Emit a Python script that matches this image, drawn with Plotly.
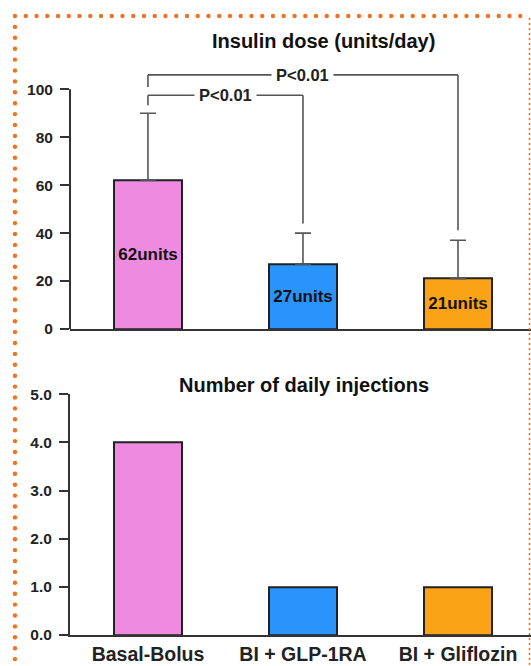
import numpy as np
import plotly.graph_objects as go

# ---- data ----
groups = ["Basal-Bolus", "BI + GLP-1RA", "BI + Gliflozin"]
dose_units = [62, 27, 21]            # mean insulin dose, units/day
dose_err_upper = [28, 13, 16]        # upper error bar
daily_injections = [4, 1, 1]
dose_ticks = [0, 20, 40, 60, 80, 100]
injection_ticks = [0, 1, 2, 3, 4, 5]
p_label = "P<0.01"

# ---- styling / geometry ----
W, H = 531, 666
bar_colors = ["#EE8BE0", "#2A94FC", "#FBA316"]
ink = "#222222"
axis_col = "#333333"
bracket_col = "#555555"
dot_col = "#F37021"
FONT = "Liberation Sans, Arial, sans-serif"
# comparison brackets: (group a, group b, bar height, left leg end, right leg end)
brackets = [(0, 1, 97.5, 93.3, 44.0), (0, 2, 106.0, 101.0, 41.2)]


def fx(p):
    return p / W


def fy(p):
    return 1 - p / H


xpos = list(range(len(groups)))
bar_w = 0.44
x_range = [-0.503, 2.471]

fig = go.Figure()

fig.add_trace(go.Bar(
    x=xpos, y=dose_units, width=bar_w,
    marker=dict(color=bar_colors, line=dict(color=ink, width=2)),
    error_y=dict(type="data", symmetric=False, array=dose_err_upper,
                 arrayminus=[0] * len(dose_units), color=bracket_col,
                 thickness=1.6, width=8),
    texttemplate="%{y}units", textposition="inside", insidetextanchor="middle",
    textangle=0, constraintext="none",
    textfont=dict(family=FONT, size=17, color="#111111", weight="bold"),
    xaxis="x", yaxis="y", showlegend=False, hoverinfo="skip",
))

fig.add_trace(go.Bar(
    x=xpos, y=daily_injections, width=bar_w,
    marker=dict(color=bar_colors, line=dict(color=ink, width=2)),
    xaxis="x2", yaxis="y2", showlegend=False, hoverinfo="skip",
))

tick_font = dict(family=FONT, size=15.5, color=ink, weight="bold")
cat_font = dict(family=FONT, size=19.5, color=ink, weight="bold")

common = dict(showgrid=False, zeroline=False, automargin=False)

fig.update_layout(
    width=W, height=H,
    margin=dict(l=0, r=0, t=0, b=0, autoexpand=False),
    paper_bgcolor="white", plot_bgcolor="white",
    bargap=0,
    xaxis=dict(domain=[fx(70), 1], range=x_range, anchor="y",
               showline=True, linecolor=axis_col, linewidth=2,
               showticklabels=False, ticks="", **common),
    yaxis=dict(domain=[fy(329), fy(65.3)], range=[0, 110], anchor="x",
               tickvals=dose_ticks, ticks="outside", ticklen=9, tickwidth=2,
               tickcolor=axis_col, tickfont=tick_font, showline=False,
               ticklabelstandoff=4, **common),
    xaxis2=dict(domain=[fx(70), 1], range=x_range, anchor="y2",
                showline=True, linecolor=axis_col, linewidth=2,
                tickvals=xpos, ticktext=groups, ticks="", tickfont=cat_font,
                ticklabelstandoff=1, **common),
    yaxis2=dict(domain=[fy(635), fy(394.3)], range=[0, 5], anchor="x2",
                tickvals=injection_ticks, tickformat=".1f", ticks="outside",
                ticklen=9, tickwidth=2, tickcolor=axis_col, tickfont=tick_font,
                showline=True, linecolor=axis_col, linewidth=2,
                ticklabelstandoff=4, **common),
)

shapes = []
# y-axis line of the dose panel stops at the top tick
shapes.append(dict(type="line", xref="x domain", yref="y", x0=0, x1=0,
                   y0=0, y1=dose_ticks[-1], line=dict(color=axis_col, width=2)))

annotations = []
for a, b, top, left_end, right_end in brackets:
    seg = dict(type="line", xref="x", yref="y", line=dict(color=bracket_col, width=1.6))
    shapes.append({**seg, "x0": a, "x1": a, "y0": left_end, "y1": top})
    shapes.append({**seg, "x0": a, "x1": b, "y0": top, "y1": top})
    shapes.append({**seg, "x0": b, "x1": b, "y0": top, "y1": right_end})
    annotations.append(dict(x=(a + b) / 2, y=top, xref="x", yref="y",
                            text=p_label, showarrow=False, bgcolor="white",
                            borderpad=4,
                            font=dict(family=FONT, size=16.5, color=ink, weight="bold")))

title_font = dict(family=FONT, size=20, color="#111111", weight="bold")
annotations.append(dict(x=fx(323), y=fy(41), xref="paper", yref="paper",
                        xanchor="center", yanchor="middle",
                        text="Insulin dose (units/day)", showarrow=False,
                        font=title_font))
annotations.append(dict(x=fx(304), y=fy(385), xref="paper", yref="paper",
                        xanchor="center", yanchor="middle",
                        text="Number of daily injections", showarrow=False,
                        font=title_font))

# dotted orange frame
r = 2.2
for xc in np.arange(15, 524, 10.75):
    shapes.append(dict(type="circle", xref="paper", yref="paper",
                       x0=fx(xc - r), x1=fx(xc + r), y0=fy(16 + r), y1=fy(16 - r),
                       fillcolor=dot_col, line=dict(width=0)))
for yc in np.arange(16 + 10.9, H + 5, 10.9):
    shapes.append(dict(type="circle", xref="paper", yref="paper",
                       x0=fx(15 - r), x1=fx(15 + r), y0=fy(yc + r), y1=fy(yc - r),
                       fillcolor=dot_col, line=dict(width=0)))
shapes.append(dict(type="line", xref="paper", yref="paper", x0=fx(529.5), x1=fx(529.5),
                   y0=fy(18), y1=0, line=dict(color=dot_col, width=1.6, dash="2px,3px")))

fig.update_layout(shapes=shapes, annotations=annotations)

fig.write_html("out.html")
